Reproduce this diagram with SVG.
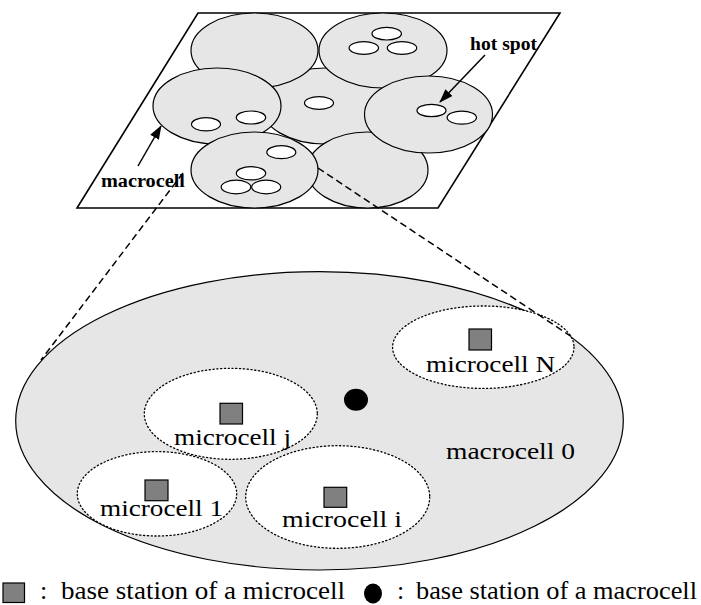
<svg xmlns="http://www.w3.org/2000/svg" width="701" height="605" viewBox="0 0 701 605">
<style>
  .cell { fill: #e6e6e6; stroke: #000; stroke-width: 1.2; }
  .hot { fill: #fff; stroke: #000; stroke-width: 1.2; }
  .micro { fill: #fff; stroke: #000; stroke-width: 1.3; stroke-dasharray: 1.2 2.6; stroke-linecap: round; }
  .bs { fill: #808080; stroke: #000; stroke-width: 1.2; }
  .dash { fill: none; stroke: #000; stroke-width: 1.5; stroke-dasharray: 7 4; }
  .arrow { fill: none; stroke: #000; stroke-width: 1.5; marker-end: url(#ah); }
  .lbl { font-family: "Liberation Serif", "Times New Roman", serif; font-size: 24px; fill: #000; }
  .blbl { font-family: "Liberation Serif", "Times New Roman", serif; font-size: 18px; font-weight: bold; fill: #000; }
  .leg { font-family: "Liberation Serif", "Times New Roman", serif; font-size: 26px; fill: #000; }
</style>
<defs>
  <marker id="ah" markerWidth="14" markerHeight="10" refX="13" refY="5" orient="auto" markerUnits="userSpaceOnUse">
    <path d="M0,0 L14,5 L0,10 z" fill="#000"/>
  </marker>
</defs>
<rect width="701" height="605" fill="#fff"/>

<g id="plane">
  <polygon points="198,13 560,13 438,208 77,208" fill="#fff" stroke="#000" stroke-width="1.6"/>
</g>

<g id="macrocell-center"><ellipse class="cell" cx="325" cy="106" rx="64" ry="38"/><ellipse class="hot" cx="319" cy="103" rx="14.5" ry="6.3"/></g>
<g id="macrocell-top-left"><ellipse class="cell" cx="254.5" cy="50.5" rx="63.5" ry="37.5"/></g>
<g id="macrocell-top-right"><ellipse class="cell" cx="383" cy="50.5" rx="64" ry="37.5"/>
  <ellipse class="hot" cx="386.7" cy="33.7" rx="14.7" ry="6.3"/>
  <ellipse class="hot" cx="363.8" cy="48" rx="14.7" ry="6.3"/>
  <ellipse class="hot" cx="402" cy="48" rx="14.7" ry="6.3"/>
</g>
<g id="macrocell-bottom-right"><ellipse class="cell" cx="367.5" cy="170" rx="60.5" ry="38"/></g>
<g id="macrocell-mid-left"><ellipse class="cell" cx="217" cy="106" rx="64" ry="38"/>
  <ellipse class="hot" cx="206" cy="124.3" rx="14.5" ry="6.6"/>
  <ellipse class="hot" cx="251" cy="117.5" rx="14.7" ry="6.5"/>
</g>
<g id="macrocell-mid-right"><ellipse class="cell" cx="428.5" cy="114.5" rx="64" ry="38.5"/>
  <ellipse class="hot" cx="431.5" cy="110.5" rx="14.5" ry="6.2"/>
  <ellipse class="hot" cx="461.8" cy="117.6" rx="14.7" ry="6.5"/>
</g>
<g id="macrocell-bottom-left"><ellipse class="cell" cx="254.5" cy="170" rx="63.5" ry="38"/>
  <ellipse class="hot" cx="281.3" cy="152.2" rx="14.5" ry="6.5"/>
  <ellipse class="hot" cx="251" cy="173.3" rx="14.7" ry="6.6"/>
  <ellipse class="hot" cx="236" cy="187" rx="14.8" ry="6.8"/>
  <ellipse class="hot" cx="266.2" cy="187" rx="14.5" ry="6.8"/>
</g>

<g id="label-hot-spot"><text class="blbl" x="470" y="50" textLength="67" lengthAdjust="spacingAndGlyphs">hot spot</text></g>
<g id="label-macrocell"><text class="blbl" x="101" y="187" textLength="84" lengthAdjust="spacingAndGlyphs">macrocell</text></g>

<g id="macrocell-0">
  <ellipse class="cell" cx="319.5" cy="420.8" rx="303.8" ry="149.2" stroke-width="1.5"/>
  <text class="lbl" x="446" y="459" textLength="129" lengthAdjust="spacingAndGlyphs">macrocell 0</text>
</g>
<g id="macro-bs"><ellipse cx="356" cy="399.8" rx="12" ry="11" fill="#000"/></g>

<g id="microcell-N">
  <ellipse class="micro" cx="483.3" cy="347.2" rx="90.7" ry="41.2"/>
  <rect class="bs" x="469" y="329" width="22.5" height="21"/>
  <text class="lbl" x="426" y="372" textLength="129" lengthAdjust="spacingAndGlyphs">microcell N</text>
</g>
<g id="microcell-j">
  <ellipse class="micro" cx="230.8" cy="413.8" rx="86.5" ry="45.5"/>
  <rect class="bs" x="220" y="403.3" width="22.5" height="20.7"/>
  <text class="lbl" x="174" y="445" textLength="117" lengthAdjust="spacingAndGlyphs">microcell j</text>
</g>
<g id="microcell-1">
  <ellipse class="micro" cx="157" cy="493.8" rx="79.7" ry="42.2"/>
  <rect class="bs" x="145" y="480" width="23" height="20.7"/>
  <text class="lbl" x="100" y="516" textLength="123" lengthAdjust="spacingAndGlyphs">microcell 1</text>
</g>
<g id="microcell-i">
  <ellipse class="micro" cx="337.7" cy="497" rx="92" ry="51.3"/>
  <rect class="bs" x="324" y="487.3" width="22.7" height="20"/>
  <text class="lbl" x="282" y="527" textLength="120" lengthAdjust="spacingAndGlyphs">microcell i</text>
</g>

<g id="connectors">
  <line class="dash" x1="183" y1="173" x2="41" y2="360"/>
  <line class="dash" x1="318" y1="168" x2="572" y2="337"/>
  <line class="arrow" x1="485" y1="55" x2="440" y2="102"/>
  <line class="arrow" x1="138" y1="166" x2="161" y2="126"/>
</g>

<g id="legend">
  <rect class="bs" x="3" y="583" width="21.5" height="19.5"/>
  <text class="leg" x="40" y="598.5">:</text>
  <text class="leg" x="61" y="598.5" textLength="284" lengthAdjust="spacingAndGlyphs">base station of a microcell</text>
  <ellipse cx="373" cy="593.5" rx="9" ry="10" fill="#000"/>
  <text class="leg" x="397" y="598.5">:</text>
  <text class="leg" x="416" y="598.5" textLength="281" lengthAdjust="spacingAndGlyphs">base station of a macrocell</text>
</g>
</svg>
